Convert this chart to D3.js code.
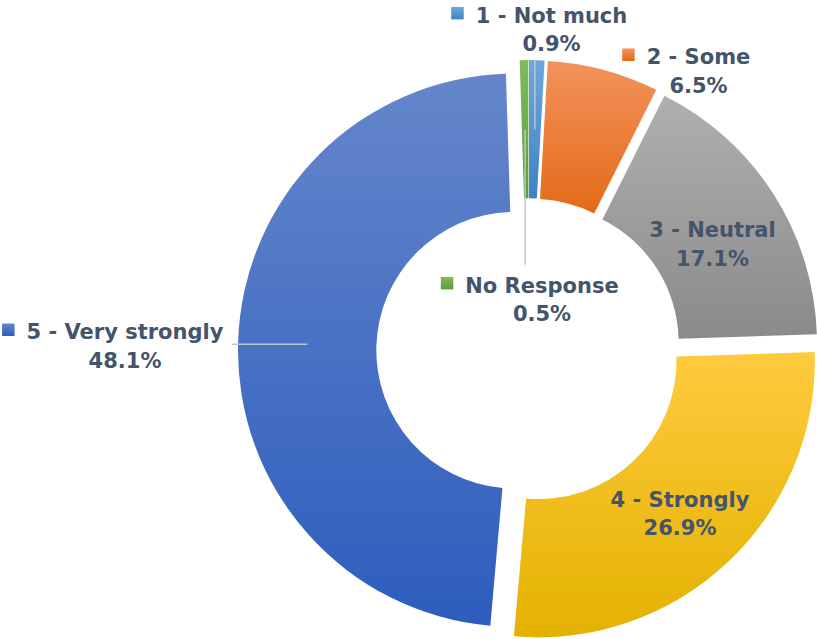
<!DOCTYPE html>
<html>
<head>
<meta charset="utf-8">
<script src="https://cdn.jsdelivr.net/npm/d3@7"></script>
<style>
  html, body { margin: 0; padding: 0; background: #ffffff; }
  svg { display: block; }
  .lbl { font-family: "DejaVu Sans", Verdana, sans-serif; font-weight: bold; font-size: 21px; fill: #44546A; }
</style>
</head>
<body>
<svg id="chart" width="817" height="639"></svg>
<script>
// Survey responses, in the order the slices are laid out clockwise from 12 o'clock
const categories = ["1 - Not much", "2 - Some", "3 - Neutral", "4 - Strongly", "5 - Very strongly", "No Response"];
const shares = [0.9, 6.5, 17.1, 26.9, 48.1, 0.5];
const percentLabels = ["0.9%", "6.5%", "17.1%", "26.9%", "48.1%", "0.5%"];

// Fill colours: lighter top stop, darker bottom stop
const topColors = ["#6FA7DB", "#F2935C", "#B0B0B0", "#FFCA3E", "#6586CB", "#80BB5E"];
const bottomColors = ["#3D83C4", "#E46A18", "#8A8A8A", "#E3B200", "#2D5DBD", "#5A9E38"];

const width = 817, height = 639;
const cx = 528.6, cy = 350.6;
const outerR = 276.6, innerR = 138.3;
const explode = 14;

// Label placement (centre x, first baseline); outside labels carry a key square
const labelPlacement = {
  "1 - Not much":      { inside: false, x: 551.5, y: 22.7, leader: "up" },
  "2 - Some":          { inside: false, x: 698.5, y: 64.3 },
  "3 - Neutral":       { inside: true,  x: 712.5, y: 237 },
  "4 - Strongly":      { inside: true,  x: 680,   y: 506.7 },
  "5 - Very strongly": { inside: false, x: 125,   y: 339.3, leader: "h" },
  "No Response":       { inside: false, x: 542,   y: 292.7, leader: "down" }
};

const svg = d3.select("#chart");
const defs = svg.append("defs");

const data = categories.map((c, i) => ({ name: c, value: shares[i], pct: percentLabels[i], i }));

const pie = d3.pie().sort(null).value(d => d.value).startAngle(0).endAngle(2 * Math.PI);
const arc = d3.arc().innerRadius(innerR).outerRadius(outerR);
const arcs = pie(data);

data.forEach((d, i) => {
  const g = defs.append("linearGradient")
    .attr("id", "grad" + i)
    .attr("x1", 0).attr("y1", 0).attr("x2", 0).attr("y2", 1);
  g.append("stop").attr("offset", "0%").attr("stop-color", topColors[i]);
  g.append("stop").attr("offset", "100%").attr("stop-color", bottomColors[i]);
});

const root = svg.append("g").attr("transform", `translate(${cx},${cy})`);

function offsetOf(a) {
  const mid = (a.startAngle + a.endAngle) / 2;
  return [explode * Math.sin(mid), -explode * Math.cos(mid)];
}

// Exploded donut slices
root.selectAll("path.slice")
  .data(arcs)
  .join("path")
  .attr("class", "slice")
  .attr("d", arc)
  .attr("transform", a => { const o = offsetOf(a); return `translate(${o[0]},${o[1]})`; })
  .attr("fill", a => `url(#grad${a.data.i})`);

// Leader lines and labels
const lineH = 28.6;
const leaderColor = "#BDC5D1";

arcs.forEach(a => {
  const d = a.data;
  const p = labelPlacement[d.name];
  const o = offsetOf(a);
  const c = arc.centroid(a);
  const ax = c[0] + o[0] + cx, ay = c[1] + o[1] + cy;
  const lx = p.x, ly = p.y;

  // leader line from the slice centroid to the label
  if (p.leader) {
    let x2, y2;
    if (p.leader === "h") { x2 = 232; y2 = ay; }
    else if (p.leader === "down") { x2 = ax; y2 = ly - 28; }
    else { x2 = ax; y2 = ly + lineH + 9; }
    svg.append("line")
      .attr("x1", ax).attr("y1", ay).attr("x2", x2).attr("y2", y2)
      .attr("stroke", leaderColor).attr("stroke-width", 1.5);
  }

  const t1 = svg.append("text").attr("class", "lbl")
    .attr("x", lx).attr("y", ly).attr("text-anchor", "middle").text(d.name);
  svg.append("text").attr("class", "lbl")
    .attr("x", lx).attr("y", ly + lineH).attr("text-anchor", "middle").text(d.pct);

  if (!p.inside) {
    const w = t1.node().getComputedTextLength();
    const ks = 12.5;
    svg.append("rect")
      .attr("x", lx - w / 2 - 12 - ks).attr("y", ly - 3.3 - ks)
      .attr("width", ks).attr("height", ks)
      .attr("fill", `url(#grad${d.i})`);
  }
});
</script>
</body>
</html>
